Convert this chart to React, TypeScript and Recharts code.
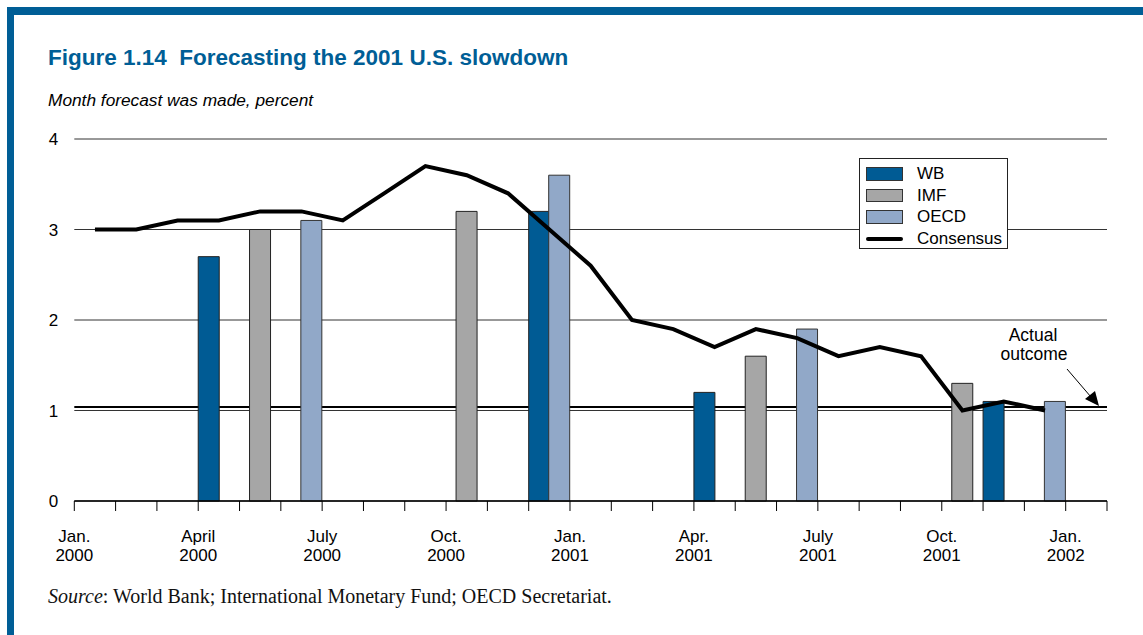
import React from 'react';
import { ComposedChart, Bar, Line, XAxis, YAxis, CartesianGrid, ReferenceLine, Legend } from 'recharts';

// ---------- data ----------
const months = [
  'Jan. 2000', 'Feb. 2000', 'Mar. 2000', 'Apr. 2000', 'May 2000', 'June 2000',
  'July 2000', 'Aug. 2000', 'Sep. 2000', 'Oct. 2000', 'Nov. 2000', 'Dec. 2000',
  'Jan. 2001', 'Feb. 2001', 'Mar. 2001', 'Apr. 2001', 'May 2001', 'June 2001',
  'July 2001', 'Aug. 2001', 'Sep. 2001', 'Oct. 2001', 'Nov. 2001', 'Dec. 2001',
  'Jan. 2002',
];
const wbValues = [null, null, null, 2.7, null, null, null, null, null, null, null, 3.2, null, null, null, 1.2, null, null, null, null, null, null, 1.1, null, null];
const imfValues = [null, null, null, null, 3.0, null, null, null, null, 3.2, null, null, null, null, null, null, 1.6, null, null, null, null, 1.3, null, null, null];
const oecdValues = [null, null, null, null, null, 3.1, null, null, null, null, null, 3.6, null, null, null, null, null, 1.9, null, null, null, null, null, 1.1, null];
const consensusValues = [3.0, 3.0, 3.1, 3.1, 3.2, 3.2, 3.1, 3.4, 3.7, 3.6, 3.4, 3.0, 2.6, 2.0, 1.9, 1.7, 1.9, 1.8, 1.6, 1.7, 1.6, 1.0, 1.1, 1.0, null];
const actualOutcome = 1.04;
const yTicks = [0, 1, 2, 3, 4];
const quarterTop = ['Jan.', 'April', 'July', 'Oct.', 'Jan.', 'Apr.', 'July', 'Oct.', 'Jan.'];
const quarterYear = ['2000', '2000', '2000', '2000', '2001', '2001', '2001', '2001', '2002'];

const seriesNames = ['WB', 'IMF', 'OECD', 'Consensus'];
const colors = { WB: '#005b94', IMF: '#a6a6a6', OECD: '#91a8c8', Consensus: '#000000', frame: '#005e96' };

const data = months.map((m, i) => ({
  month: m,
  WB: wbValues[i],
  IMF: imfValues[i],
  OECD: oecdValues[i],
  Consensus: consensusValues[i],
}));

// ---------- layout ----------
const W = 1143;
const H = 635;
const PLOT_LEFT = 74.3;
const PLOT_RIGHT = 1107;
const PLOT_TOP = 139;
const PLOT_BOTTOM = 501;
const Y_AXIS_W = 40;
const X_AXIS_H = 70;
const BAND = (PLOT_RIGHT - PLOT_LEFT) / months.length;
const SANS = '"Liberation Sans", Arial, Helvetica, sans-serif';
const SERIF = '"Liberation Serif", "Times New Roman", serif';

function MonthTick(props: any) {
  const { x, y, payload, index } = props;
  const half = payload && typeof payload.offset === 'number' && payload.offset > 0 ? payload.offset : BAND / 2;
  const left = x - half;
  const i = typeof index === 'number' ? index : months.indexOf(payload.value);
  const isQuarter = i % 3 === 0;
  return (
    <g>
      <line x1={left} x2={left} y1={y} y2={y + 10} stroke="#000" strokeWidth={1} />
      {i === months.length - 1 && (
        <line x1={x + half} x2={x + half} y1={y} y2={y + 10} stroke="#000" strokeWidth={1} />
      )}
      {isQuarter && (
        <text x={left} y={y} textAnchor="middle" fontSize={17} fontFamily={SANS} fill="#000">
          <tspan x={left} dy={41}>{quarterTop[i / 3]}</tspan>
          <tspan x={left} dy={19}>{quarterYear[i / 3]}</tspan>
        </text>
      )}
    </g>
  );
}

function LegendBox() {
  const rowTop = [8, 29.5, 51, 72.5];
  return (
    <div
      style={{
        position: 'relative',
        width: 149,
        height: 91,
        border: '1px solid #222',
        boxSizing: 'border-box',
        background: '#fff',
        fontFamily: SANS,
        fontSize: 17,
        color: '#000',
      }}
    >
      {seriesNames.map((name, k) => (
        <div key={name} style={{ position: 'absolute', left: 0, top: rowTop[k], height: 14, width: 147 }}>
          {name === 'Consensus' ? (
            <div style={{ position: 'absolute', left: 6, top: 5, width: 37, height: 4, background: '#000', borderRadius: 2 }} />
          ) : (
            <div
              style={{
                position: 'absolute',
                left: 5.5,
                top: 0,
                width: 37.5,
                height: 13.5,
                boxSizing: 'border-box',
                border: '1px solid #333',
                background: (colors as any)[name],
              }}
            />
          )}
          <div style={{ position: 'absolute', left: 57, top: -3, lineHeight: '20px', whiteSpace: 'nowrap' }}>{name}</div>
        </div>
      ))}
    </div>
  );
}

export default function App() {
  return (
    <div
      style={{
        position: 'absolute',
        left: 0,
        top: 0,
        width: W,
        height: H,
        background: '#fff',
        overflow: 'hidden',
        fontFamily: SANS,
      }}
    >
      <div style={{ position: 'absolute', left: 7, top: 7, right: 0, height: 8, background: colors.frame }} />
      <div style={{ position: 'absolute', left: 7, top: 7, width: 7, bottom: 0, background: colors.frame }} />

      <div
        style={{
          position: 'absolute',
          left: 48,
          top: 47,
          fontSize: 22.5,
          lineHeight: '22px',
          fontWeight: 'bold',
          color: colors.frame,
          whiteSpace: 'pre',
        }}
      >
        {'Figure 1.14  Forecasting the 2001 U.S. slowdown'}
      </div>
      <div
        style={{
          position: 'absolute',
          left: 48,
          top: 91.5,
          fontSize: 17.3,
          lineHeight: '17px',
          fontStyle: 'italic',
          color: '#000',
          whiteSpace: 'pre',
        }}
      >
        Month forecast was made, percent
      </div>

      <div style={{ position: 'absolute', left: 0, top: 0 }}>
        <ComposedChart
          width={W}
          height={H}
          data={data}
          margin={{ top: PLOT_TOP, right: W - PLOT_RIGHT, bottom: H - PLOT_BOTTOM - X_AXIS_H, left: PLOT_LEFT - Y_AXIS_W }}
          barGap={-11}
        >
          <CartesianGrid vertical={false} horizontal={true} stroke="#333" strokeWidth={1} />
          <ReferenceLine y={actualOutcome} stroke="#000" strokeWidth={2} zIndex={-50} />
          <XAxis
            dataKey="month"
            interval={0}
            tickLine={false}
            tickSize={0}
            tickMargin={0}
            height={X_AXIS_H}
            axisLine={{ stroke: '#000', strokeWidth: 1.5 }}
            tick={<MonthTick />}
          />
          <YAxis
            width={Y_AXIS_W}
            domain={[0, 4]}
            ticks={yTicks}
            interval={0}
            axisLine={false}
            tickLine={false}
            tickSize={0}
            tickMargin={16}
            tick={{ fontSize: 17, fill: '#000', fontFamily: SANS }}
          />
          <Bar dataKey="WB" name="WB" fill={colors.WB} stroke="#222" strokeWidth={1} barSize={21} isAnimationActive={false} />
          <Bar dataKey="IMF" name="IMF" fill={colors.IMF} stroke="#222" strokeWidth={1} barSize={21} isAnimationActive={false} />
          <Bar dataKey="OECD" name="OECD" fill={colors.OECD} stroke="#333" strokeWidth={1} barSize={21} isAnimationActive={false} />
          <Line
            dataKey="Consensus"
            name="Consensus"
            type="linear"
            stroke={colors.Consensus}
            strokeWidth={4}
            dot={false}
            activeDot={false}
            isAnimationActive={false}
          />
          <Legend
            layout="vertical"
            align="center"
            verticalAlign="middle"
            content={() => <LegendBox />}
            wrapperStyle={{ position: 'absolute', left: 859, top: 158, width: 149, height: 91 }}
          />
        </ComposedChart>
      </div>

      <svg width={W} height={H} style={{ position: 'absolute', left: 0, top: 0, pointerEvents: 'none' }}>
        <text x={1033} y={341} textAnchor="middle" fontSize={17.5} fontFamily={SANS} fill="#000">Actual</text>
        <text x={1034} y={359.5} textAnchor="middle" fontSize={17.5} fontFamily={SANS} fill="#000">outcome</text>
        <line x1={1067} y1={369} x2={1091} y2={397} stroke="#000" strokeWidth={1} />
        <polygon points="1099,406 1085,399 1095,391" fill="#000" />
      </svg>

      <div
        style={{
          position: 'absolute',
          left: 48,
          top: 586,
          fontSize: 20,
          lineHeight: '20px',
          fontFamily: SERIF,
          color: '#111',
          whiteSpace: 'pre',
        }}
      >
        <i>Source</i>: World Bank; International Monetary Fund; OECD Secretariat.
      </div>
    </div>
  );
}
